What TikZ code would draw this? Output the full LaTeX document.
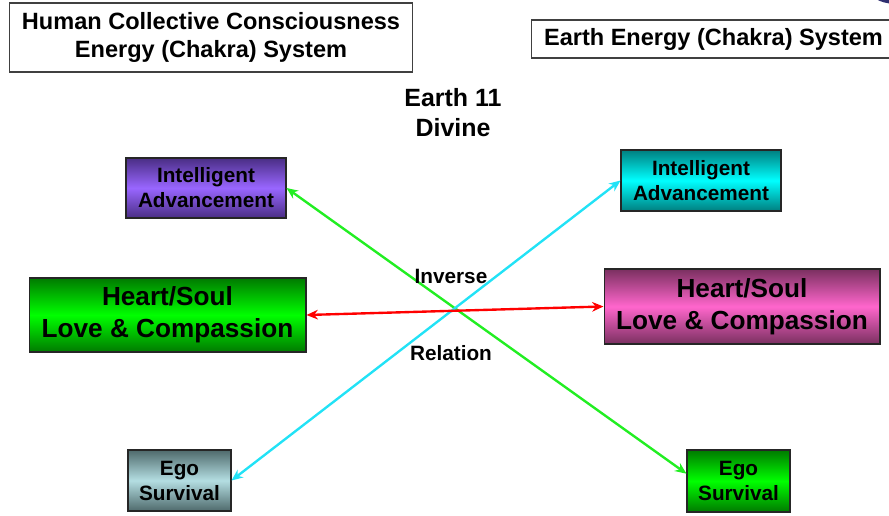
\documentclass[tikz,border=0pt]{standalone}
\usepackage{fontspec}
\setmainfont{Liberation Sans}
\usetikzlibrary{arrows.meta}

\definecolor{violetMid}{HTML}{9966FF}
\definecolor{violetEdge}{HTML}{4A2E85}
\definecolor{aquaMid}{HTML}{00FFFF}
\definecolor{aquaEdge}{HTML}{007F80}
\definecolor{limeMid}{HTML}{00FF00}
\definecolor{limeEdge}{HTML}{007A00}
\definecolor{pinkMid}{HTML}{FF66CC}
\definecolor{pinkEdge}{HTML}{7A3060}
\definecolor{slateMid}{HTML}{B4DEE2}
\definecolor{slateEdge}{HTML}{4F6A6C}
\definecolor{navyBlob}{HTML}{2F2F70}
\definecolor{arrowLime}{HTML}{22EE22}
\definecolor{arrowAqua}{HTML}{22E2F6}

\begin{document}
\begin{tikzpicture}[x=0.02cm,y=-0.02cm,
    titlebox/.style={draw=black!75, line width=0.6pt, fill=white, inner sep=0pt, align=center,
      font=\bfseries\fontsize{13.4}{15.9}\selectfont},
    chakra/.style={draw=black!85, line width=0.6pt, inner sep=0pt, align=center},
    small/.style={font=\bfseries\fontsize{11.8}{14.2}\selectfont},
    big/.style={font=\bfseries\fontsize{14.9}{18.1}\selectfont},
    shade/.style args={#1 and #2}{top color=#2, bottom color=#2, middle color=#1},
    link/.style={line width=1.35pt, {Stealth[length=6.5pt,width=5.5pt]}-{Stealth[length=6.5pt,width=5.5pt]}}]
    \useasboundingbox (0,0) rectangle (889,516);
    \clip (0,0) rectangle (889,516);
    \fill[navyBlob] (897,-6) ellipse (24 and 10);
    % titles
    \node[titlebox, minimum width=8.08cm, minimum height=1.38cm] (titleL) at (211,37.5)
        {Human Collective Consciousness\\Energy (Chakra) System};
    \node[titlebox, minimum width=7.3cm, minimum height=0.76cm] (titleR) at (713.5,39)
        {Earth Energy (Chakra) System};
    \node[font=\bfseries\fontsize{14.2}{17}\selectfont, align=center] (earth) at (453,113)
        {Earth 11\\Divine};
    % human side
    \node[chakra, small, shade=violetMid and violetEdge, minimum width=3.2cm, minimum height=1.2cm]
        (intelL) at (206,188) {Intelligent\\Advancement};
    \node[chakra, big, shade=limeMid and limeEdge, minimum width=5.54cm, minimum height=1.48cm]
        (heartL) at (167.5,315) {Heart/Soul\\Love \& Compassion};
    \node[chakra, small, shade=slateMid and slateEdge, minimum width=2.06cm, minimum height=1.22cm]
        (egoL) at (179.5,480.5) {Ego\\Survival};
    % earth side
    \node[chakra, small, shade=aquaMid and aquaEdge, minimum width=3.2cm, minimum height=1.22cm]
        (intelR) at (701,180.5) {Intelligent\\Advancement};
    \node[chakra, big, shade=pinkMid and pinkEdge, minimum width=5.52cm, minimum height=1.5cm]
        (heartR) at (742,306.5) {Heart/Soul\\Love \& Compassion};
    \node[chakra, small, shade=limeMid and limeEdge, minimum width=2.06cm, minimum height=1.24cm]
        (egoR) at (738.5,481) {Ego\\Survival};
    % inverse relation
    \draw[link, arrowLime] (intelL.east) -- (egoR.172);
    \draw[link, arrowAqua] (egoL.east) -- (intelR.west);
    \draw[link, red] (heartL.east) -- (heartR.west);
    \node[small] (inverse) at (451,276) {Inverse};
    \node[small] (relation) at (451,353) {Relation};
\end{tikzpicture}
\end{document}
